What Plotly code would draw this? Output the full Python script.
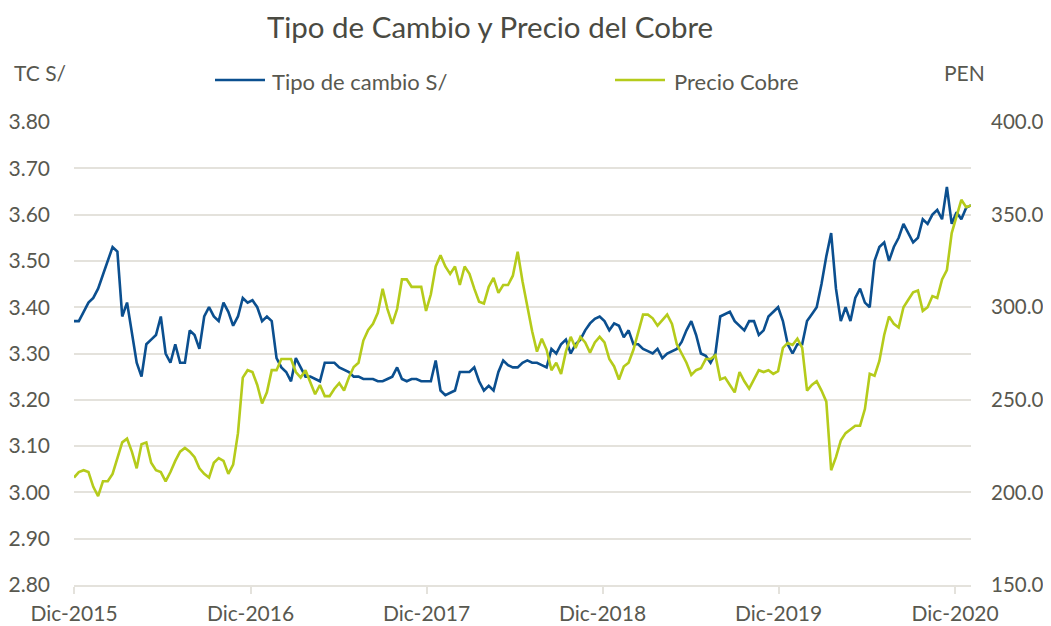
import pandas as pd
import plotly.graph_objects as go

# ---- data (10-day sampling from 1-Dec-2015) ----
start_date = "2015-12-01"
tipo_cambio = [
    3.37, 3.37, 3.39, 3.41, 3.42, 3.44, 3.47, 3.50, 3.53, 3.52,
    3.38, 3.41, 3.34, 3.28, 3.25, 3.32, 3.33, 3.34, 3.38, 3.30,
    3.28, 3.32, 3.28, 3.28, 3.35, 3.34, 3.31, 3.38, 3.40, 3.38,
    3.37, 3.41, 3.39, 3.36, 3.38, 3.42, 3.41, 3.415, 3.40, 3.37,
    3.38, 3.37, 3.29, 3.27, 3.26, 3.24, 3.29, 3.27, 3.25, 3.25,
    3.245, 3.24, 3.28, 3.28, 3.28, 3.27, 3.265, 3.26, 3.25, 3.25,
    3.245, 3.245, 3.245, 3.24, 3.24, 3.245, 3.25, 3.27, 3.245, 3.24,
    3.245, 3.245, 3.24, 3.24, 3.24, 3.285, 3.22, 3.21, 3.215, 3.22,
    3.26, 3.26, 3.26, 3.27, 3.24, 3.22, 3.23, 3.22, 3.26, 3.285,
    3.275, 3.27, 3.27, 3.28, 3.285, 3.28, 3.28, 3.275, 3.27, 3.31,
    3.30, 3.32, 3.33, 3.30, 3.32, 3.33, 3.35, 3.365, 3.375, 3.38,
    3.37, 3.35, 3.365, 3.36, 3.335, 3.35, 3.32, 3.32, 3.31, 3.305,
    3.30, 3.31, 3.29, 3.30, 3.305, 3.31, 3.325, 3.35, 3.37, 3.34,
    3.30, 3.295, 3.28, 3.30, 3.38, 3.385, 3.39, 3.37, 3.36, 3.35,
    3.37, 3.37, 3.34, 3.35, 3.38, 3.39, 3.40, 3.37, 3.32, 3.30,
    3.32, 3.32, 3.37, 3.385, 3.40, 3.45, 3.51, 3.56, 3.44, 3.37,
    3.40, 3.37, 3.42, 3.44, 3.41, 3.40, 3.50, 3.53, 3.54, 3.50,
    3.53, 3.55, 3.58, 3.56, 3.54, 3.55, 3.59, 3.58, 3.60, 3.61,
    3.59, 3.66, 3.58, 3.605, 3.59, 3.615, 3.62,
]
precio_cobre = [
    208, 211, 212, 211, 203, 198, 206, 206, 210, 218,
    227, 229, 222, 213, 226, 227, 216, 212, 211, 206,
    211, 217, 222, 224, 222, 219, 213, 210, 208, 216,
    218.5, 217, 210, 215, 232, 262, 266, 265, 258, 248,
    254, 266, 266, 272, 272, 272, 265, 262, 266, 260,
    253, 258, 252, 252, 256, 259, 255, 262, 267.7, 270,
    282, 287.7, 291, 297, 310, 299, 291, 299, 315, 315,
    311, 311, 311, 298, 307, 322, 328, 322, 318, 322,
    312, 322, 318, 310, 303, 302, 311, 315.8, 307.7, 312,
    312, 317, 330, 314, 300, 287, 276, 283, 277, 266,
    270, 264, 276, 284, 278, 284, 281, 275.5, 281, 284,
    281, 272, 268, 261, 268, 270, 277, 286, 296, 296,
    294, 290, 293, 296, 291, 280, 275, 270, 263.4, 266,
    267, 272, 272, 274, 261, 262, 258, 254, 265, 260,
    256, 261, 266, 265, 266, 264, 265.5, 278, 280.7, 279.6,
    283, 278, 255, 258, 260, 255, 249, 212, 219, 228,
    232, 234, 236, 236, 245, 264, 263, 271, 285, 295,
    291, 289, 300, 304, 308, 309, 298, 300, 306, 305,
    315, 320, 340, 349, 358, 354, 355,
]
series_names = ["Tipo de cambio S/", "Precio Cobre"]
tick_dates = ["2015-12-01", "2016-12-01", "2017-12-01", "2018-12-01", "2019-12-01", "2020-12-01"]
tick_labels = ["Dic-2015", "Dic-2016", "Dic-2017", "Dic-2018", "Dic-2019", "Dic-2020"]
left_ticks = [2.80, 2.90, 3.00, 3.10, 3.20, 3.30, 3.40, 3.50, 3.60, 3.70, 3.80]
right_ticks = [150, 200, 250, 300, 350, 400]

dates = pd.date_range(start_date, periods=len(tipo_cambio), freq="10D")

BLUE = "#0B4F8F"
GREEN = "#B5CB1B"
TEXT = "#58584F"
GRID = "#E4E2DC"
FONT = "Lato"

# page puts the figure 8px in from the top-left corner
OFF = 8
W, H = 1051 - OFF, 626 - OFF
L, T = 74 - OFF, 122 - OFF
PW, PH = 897, 463
R = W - L - PW
B = H - T - PH


def px_x(x_screen):
    return (x_screen - OFF - L) / PW


def px_y(y_screen):
    return 1 + (T - (y_screen - OFF)) / PH


fig = go.Figure()
fig.add_trace(go.Scatter(
    x=dates, y=tipo_cambio, name=series_names[0], mode="lines",
    line=dict(color=BLUE, width=2.6), yaxis="y",
))
fig.add_trace(go.Scatter(
    x=dates, y=precio_cobre, name=series_names[1], mode="lines",
    line=dict(color=GREEN, width=2.6), yaxis="y2",
))

# legend drawn as swatch + label (Excel style, long swatches)
legend_items = [
    (series_names[0], BLUE, 215, 265, 270),
    (series_names[1], GREEN, 615, 665, 672),
]
shapes = []
annotations = []
for name, color, x0, x1, xt in legend_items:
    shapes.append(dict(type="line", xref="paper", yref="paper",
                       x0=px_x(x0), x1=px_x(x1), y0=px_y(80), y1=px_y(80),
                       line=dict(color=color, width=2.6)))
    annotations.append(dict(text=name, xref="paper", yref="paper",
                            x=px_x(xt), y=px_y(81), xanchor="left", yanchor="middle",
                            showarrow=False,
                            font=dict(family=FONT, size=22, color=TEXT)))

annotations += [
    dict(text="TC S/", xref="paper", yref="paper",
         x=px_x(12), y=px_y(72), xanchor="left", yanchor="middle",
         showarrow=False, font=dict(family=FONT, size=21, color=TEXT)),
    dict(text="PEN", xref="paper", yref="paper",
         x=px_x(942), y=px_y(73), xanchor="left", yanchor="middle",
         showarrow=False, font=dict(family=FONT, size=21, color=TEXT)),
]

fig.update_layout(
    width=W, height=H,
    margin=dict(l=L, r=R, t=T, b=B, autoexpand=False),
    paper_bgcolor="white", plot_bgcolor="white",
    font=dict(family=FONT, color=TEXT, size=21),
    title=dict(
        text="Tipo de Cambio y Precio del Cobre",
        x=px_x(490), xref="paper", xanchor="center",
        y=1 - (28 - OFF) / H, yref="container", yanchor="middle",
        font=dict(family=FONT, size=29.5, color="#4A4A42"),
    ),
    showlegend=False,
    xaxis=dict(
        type="date", automargin=False,
        range=[dates[0], dates[-1]],
        tickvals=tick_dates, ticktext=tick_labels,
        showgrid=False, zeroline=False,
        showline=True, linecolor=GRID, linewidth=2,
        ticks="outside", ticklen=7, tickwidth=1.5, tickcolor=GRID,
        ticklabelstandoff=2,
        tickfont=dict(family=FONT, size=21, color=TEXT),
    ),
    yaxis=dict(
        automargin=False,
        range=[2.80, 3.80], tickvals=left_ticks, tickformat=".2f",
        showgrid=True, gridcolor=GRID, gridwidth=2,
        zeroline=False, showline=False, ticks="",
        ticklabelstandoff=23,
        tickfont=dict(family=FONT, size=21, color=TEXT),
    ),
    yaxis2=dict(
        automargin=False,
        range=[150, 400], tickvals=right_ticks, tickformat=".1f",
        overlaying="y", side="right",
        showgrid=False, zeroline=False, showline=False, ticks="",
        ticklabelstandoff=19,
        tickfont=dict(family=FONT, size=20.5, color=TEXT),
    ),
    shapes=shapes,
    annotations=annotations,
)

fig.write_html("out.html")
